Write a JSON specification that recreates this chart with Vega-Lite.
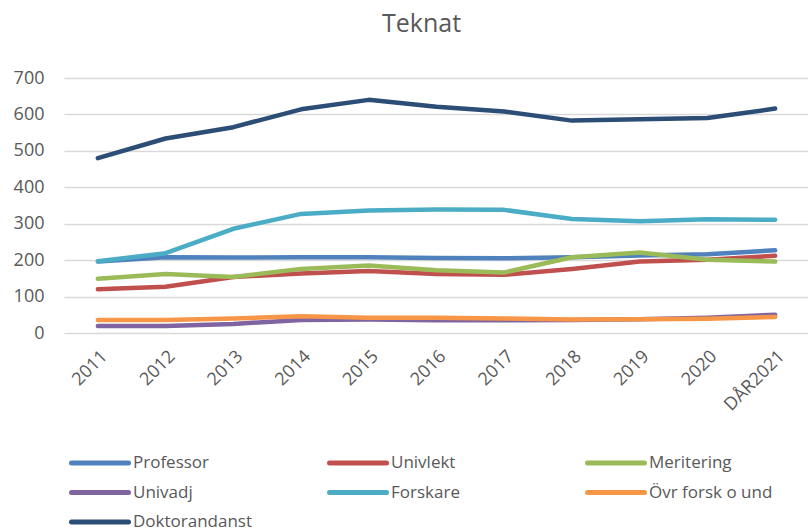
{
  "$schema": "https://vega.github.io/schema/vega-lite/v6.json",
  "autosize": "none",
  "width": 745,
  "height": 255,
  "padding": {"left": 64, "top": 78, "right": 0, "bottom": 199},
  "background": "white",
  "title": {"text": "Teknat", "fontSize": 25, "font": "Open Sans", "fontWeight": "normal", "color": "#595959", "offset": 32, "dx": -15},
  "config": {"view": {"stroke": null}, "font": "Open Sans"},
  "data": {"values": [
    {"year": "2011", "series": "Professor", "value": 196},
    {"year": "2012", "series": "Professor", "value": 208},
    {"year": "2013", "series": "Professor", "value": 207},
    {"year": "2014", "series": "Professor", "value": 208},
    {"year": "2015", "series": "Professor", "value": 208},
    {"year": "2016", "series": "Professor", "value": 206},
    {"year": "2017", "series": "Professor", "value": 205},
    {"year": "2018", "series": "Professor", "value": 208},
    {"year": "2019", "series": "Professor", "value": 213},
    {"year": "2020", "series": "Professor", "value": 216},
    {"year": "DÅR2021", "series": "Professor", "value": 227},
    {"year": "2011", "series": "Univlekt", "value": 120},
    {"year": "2012", "series": "Univlekt", "value": 127},
    {"year": "2013", "series": "Univlekt", "value": 154},
    {"year": "2014", "series": "Univlekt", "value": 163},
    {"year": "2015", "series": "Univlekt", "value": 170},
    {"year": "2016", "series": "Univlekt", "value": 162},
    {"year": "2017", "series": "Univlekt", "value": 160},
    {"year": "2018", "series": "Univlekt", "value": 176},
    {"year": "2019", "series": "Univlekt", "value": 196},
    {"year": "2020", "series": "Univlekt", "value": 201},
    {"year": "DÅR2021", "series": "Univlekt", "value": 212},
    {"year": "2011", "series": "Meritering", "value": 149},
    {"year": "2012", "series": "Meritering", "value": 162},
    {"year": "2013", "series": "Meritering", "value": 154},
    {"year": "2014", "series": "Meritering", "value": 176},
    {"year": "2015", "series": "Meritering", "value": 185},
    {"year": "2016", "series": "Meritering", "value": 172},
    {"year": "2017", "series": "Meritering", "value": 166},
    {"year": "2018", "series": "Meritering", "value": 208},
    {"year": "2019", "series": "Meritering", "value": 221},
    {"year": "2020", "series": "Meritering", "value": 201},
    {"year": "DÅR2021", "series": "Meritering", "value": 196},
    {"year": "2011", "series": "Univadj", "value": 19},
    {"year": "2012", "series": "Univadj", "value": 19},
    {"year": "2013", "series": "Univadj", "value": 25},
    {"year": "2014", "series": "Univadj", "value": 36},
    {"year": "2015", "series": "Univadj", "value": 37},
    {"year": "2016", "series": "Univadj", "value": 35},
    {"year": "2017", "series": "Univadj", "value": 35},
    {"year": "2018", "series": "Univadj", "value": 36},
    {"year": "2019", "series": "Univadj", "value": 38},
    {"year": "2020", "series": "Univadj", "value": 42},
    {"year": "DÅR2021", "series": "Univadj", "value": 50},
    {"year": "2011", "series": "Forskare", "value": 197},
    {"year": "2012", "series": "Forskare", "value": 219},
    {"year": "2013", "series": "Forskare", "value": 286},
    {"year": "2014", "series": "Forskare", "value": 327},
    {"year": "2015", "series": "Forskare", "value": 336},
    {"year": "2016", "series": "Forskare", "value": 339},
    {"year": "2017", "series": "Forskare", "value": 338},
    {"year": "2018", "series": "Forskare", "value": 313},
    {"year": "2019", "series": "Forskare", "value": 307},
    {"year": "2020", "series": "Forskare", "value": 312},
    {"year": "DÅR2021", "series": "Forskare", "value": 311},
    {"year": "2011", "series": "Övr forsk o und", "value": 36},
    {"year": "2012", "series": "Övr forsk o und", "value": 36},
    {"year": "2013", "series": "Övr forsk o und", "value": 40},
    {"year": "2014", "series": "Övr forsk o und", "value": 46},
    {"year": "2015", "series": "Övr forsk o und", "value": 42},
    {"year": "2016", "series": "Övr forsk o und", "value": 42},
    {"year": "2017", "series": "Övr forsk o und", "value": 40},
    {"year": "2018", "series": "Övr forsk o und", "value": 37},
    {"year": "2019", "series": "Övr forsk o und", "value": 38},
    {"year": "2020", "series": "Övr forsk o und", "value": 39},
    {"year": "DÅR2021", "series": "Övr forsk o und", "value": 44},
    {"year": "2011", "series": "Doktorandanst", "value": 480},
    {"year": "2012", "series": "Doktorandanst", "value": 534},
    {"year": "2013", "series": "Doktorandanst", "value": 565},
    {"year": "2014", "series": "Doktorandanst", "value": 614},
    {"year": "2015", "series": "Doktorandanst", "value": 640},
    {"year": "2016", "series": "Doktorandanst", "value": 621},
    {"year": "2017", "series": "Doktorandanst", "value": 608},
    {"year": "2018", "series": "Doktorandanst", "value": 583},
    {"year": "2019", "series": "Doktorandanst", "value": 587},
    {"year": "2020", "series": "Doktorandanst", "value": 590},
    {"year": "DÅR2021", "series": "Doktorandanst", "value": 616}
  ]},
  "mark": {"type": "line", "strokeWidth": 4.5, "strokeCap": "round", "strokeJoin": "round"},
  "encoding": {
    "x": {
      "field": "year", "type": "ordinal", "title": null, "sort": null,
      "scale": {"type": "point", "padding": 0.5},
      "axis": {"domain": false, "ticks": false, "grid": false, "labelAngle": -45, "labelFontSize": 18, "labelColor": "#595959", "labelPadding": 14}
    },
    "y": {
      "field": "value", "type": "quantitative", "title": null,
      "scale": {"domain": [0, 700], "nice": false},
      "axis": {"values": [0, 100, 200, 300, 400, 500, 600, 700], "domain": false, "ticks": false, "gridColor": "#d9d9d9", "gridWidth": 1.5, "labelFontSize": 18, "labelColor": "#595959", "labelPadding": 20}
    },
    "color": {
      "field": "series", "type": "nominal", "sort": null,
      "scale": {
        "domain": ["Professor", "Univlekt", "Meritering", "Univadj", "Forskare", "Övr forsk o und", "Doktorandanst"],
        "range": ["#4F81BD", "#C0504D", "#9BBB59", "#8064A2", "#4BACC6", "#F79646", "#2C4D75"]
      },
      "legend": {
        "title": null, "orient": "none", "legendX": 5, "legendY": 376,
        "direction": "horizontal", "columns": 3, "gridAlign": "all", "columnPadding": 70, "rowPadding": 11.5, "clipHeight": 18,
        "symbolType": "M-1,0H1", "symbolSize": 3249, "symbolStrokeWidth": 5, "symbolOffset": 0,
        "labelFontSize": 17, "labelColor": "#595959", "labelOffset": 2, "labelLimit": 300,
        "encode": {"symbols": {"update": {"strokeCap": {"value": "round"}}}}
      }
    }
  }
}
